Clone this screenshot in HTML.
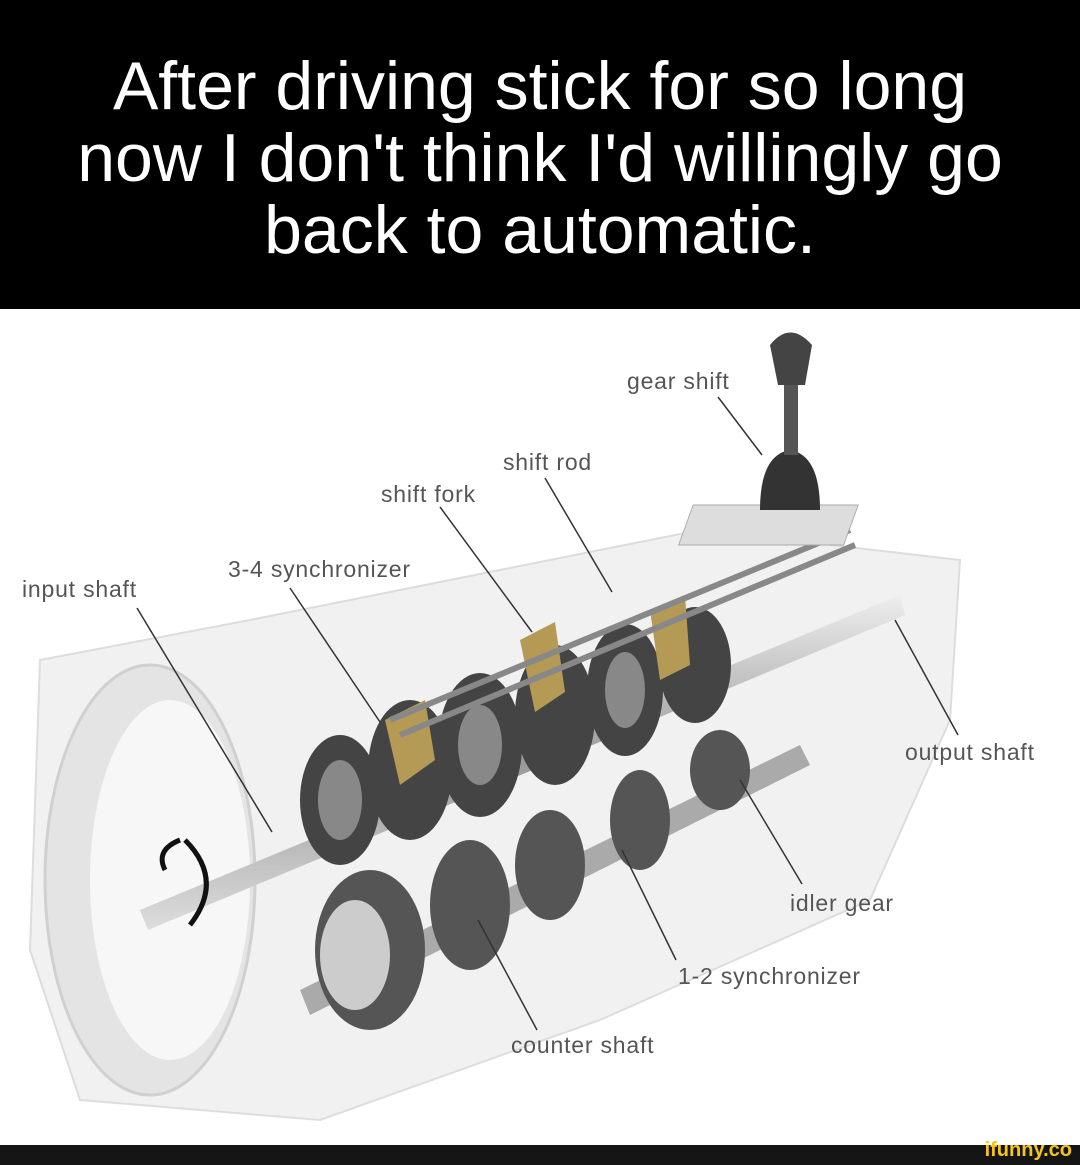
<!DOCTYPE html>
<html><head><meta charset="utf-8"><style>
html,body{margin:0;padding:0;background:#fff;}
body{width:1080px;height:1165px;position:relative;overflow:hidden;font-family:"Liberation Sans",sans-serif;}
#hdr{position:absolute;left:0;top:0;width:1080px;height:309px;background:#000;color:#fff;text-align:center;font-size:68px;line-height:72px;}
#hdr div{padding-top:50px;}
#ftr{position:absolute;left:0;top:1145px;width:1080px;height:20px;background:#151515;}
#logo{position:absolute;right:8px;top:-6px;color:#f5c518;font-weight:bold;font-size:20px;font-family:"Liberation Sans",sans-serif;}
.l{position:absolute;font-size:23px;letter-spacing:0.8px;color:#555;white-space:nowrap;}
svg{position:absolute;left:0;top:0;}
</style></head><body>
<div id="hdr"><div>After driving stick for so long<br>now I don't think I'd willingly go<br>back to automatic.</div></div>
<svg width="1080" height="1165">
<defs>
<linearGradient id="sh" x1="0" y1="0" x2="0" y2="1"><stop offset="0" stop-color="#eee"/><stop offset="0.5" stop-color="#999"/><stop offset="1" stop-color="#ddd"/></linearGradient>
</defs>
<path d="M40 660 L250 620 L700 530 L960 560 L950 720 L870 900 L600 1020 L320 1120 L80 1100 L30 950 Z" fill="#f1f1f1" stroke="#ddd" stroke-width="2"/>
<ellipse cx="150" cy="880" rx="105" ry="215" fill="#e4e4e4" stroke="#d0d0d0" stroke-width="3"/>
<ellipse cx="170" cy="880" rx="80" ry="180" fill="#f7f7f7"/>
<path d="M140 910 L900 595 L905 615 L148 930 Z" fill="url(#sh)"/>
<path d="M300 990 L800 745 L810 765 L310 1015 Z" fill="#aaa"/>
<g fill="#444">
<ellipse cx="340" cy="800" rx="40" ry="65"/>
<ellipse cx="410" cy="770" rx="42" ry="70"/>
<ellipse cx="480" cy="745" rx="42" ry="72"/>
<ellipse cx="555" cy="715" rx="40" ry="70"/>
<ellipse cx="625" cy="690" rx="38" ry="66"/>
<ellipse cx="695" cy="665" rx="36" ry="58"/>
</g>
<g fill="#888">
<ellipse cx="340" cy="800" rx="22" ry="40"/>
<ellipse cx="480" cy="745" rx="22" ry="40"/>
<ellipse cx="625" cy="690" rx="20" ry="38"/>
</g>
<g fill="#b59a55">
<path d="M385 720 l40 -20 l10 60 l-35 25 z"/>
<path d="M520 640 l35 -18 l10 70 l-30 20 z"/>
<path d="M650 610 l35 -15 l5 70 l-30 15 z"/>
</g>
<g stroke="#888" stroke-width="6">
<line x1="390" y1="720" x2="850" y2="530"/>
<line x1="400" y1="735" x2="855" y2="545"/>
</g>
<g fill="#555">
<ellipse cx="370" cy="950" rx="55" ry="80"/>
<ellipse cx="470" cy="905" rx="40" ry="65"/>
<ellipse cx="550" cy="865" rx="35" ry="55"/>
<ellipse cx="640" cy="820" rx="30" ry="50"/>
<ellipse cx="720" cy="770" rx="30" ry="40"/>
</g>
<ellipse cx="355" cy="955" rx="35" ry="55" fill="#ccc"/>
<rect x="697" y="505" width="165" height="40" fill="#ddd" stroke="#aaa" transform="skewX(-20) translate(180 0)"/>
<path d="M760 510 Q760 455 790 450 Q820 455 820 510 Z" fill="#333"/>
<rect x="784" y="380" width="14" height="75" fill="#555"/>
<path d="M770 345 Q790 320 812 345 L805 385 L778 385 Z" fill="#444"/>
<path d="M185 840 Q225 880 190 925" fill="none" stroke="#111" stroke-width="5"/>
<path d="M180 840 Q155 850 165 870" fill="none" stroke="#111" stroke-width="5"/>
<g stroke="#333" stroke-width="1.5">
<line x1="718" y1="397" x2="762" y2="455"/>
<line x1="545" y1="478" x2="612" y2="592"/>
<line x1="440" y1="507" x2="532" y2="632"/>
<line x1="290" y1="588" x2="380" y2="722"/>
<line x1="137" y1="608" x2="272" y2="832"/>
<line x1="958" y1="735" x2="895" y2="620"/>
<line x1="802" y1="884" x2="740" y2="780"/>
<line x1="676" y1="960" x2="622" y2="850"/>
<line x1="537" y1="1030" x2="478" y2="920"/>
</g>
</svg>
<div class="l" style="left:627px;top:368px">gear shift</div>
<div class="l" style="left:503px;top:449px">shift rod</div>
<div class="l" style="left:381px;top:481px">shift fork</div>
<div class="l" style="left:228px;top:556px">3-4 synchronizer</div>
<div class="l" style="left:22px;top:576px">input shaft</div>
<div class="l" style="left:905px;top:739px">output shaft</div>
<div class="l" style="left:790px;top:890px">idler gear</div>
<div class="l" style="left:678px;top:963px">1-2 synchronizer</div>
<div class="l" style="left:511px;top:1032px">counter shaft</div>
<div id="ftr"><span id="logo">ifunny.co</span></div>
</body></html>
